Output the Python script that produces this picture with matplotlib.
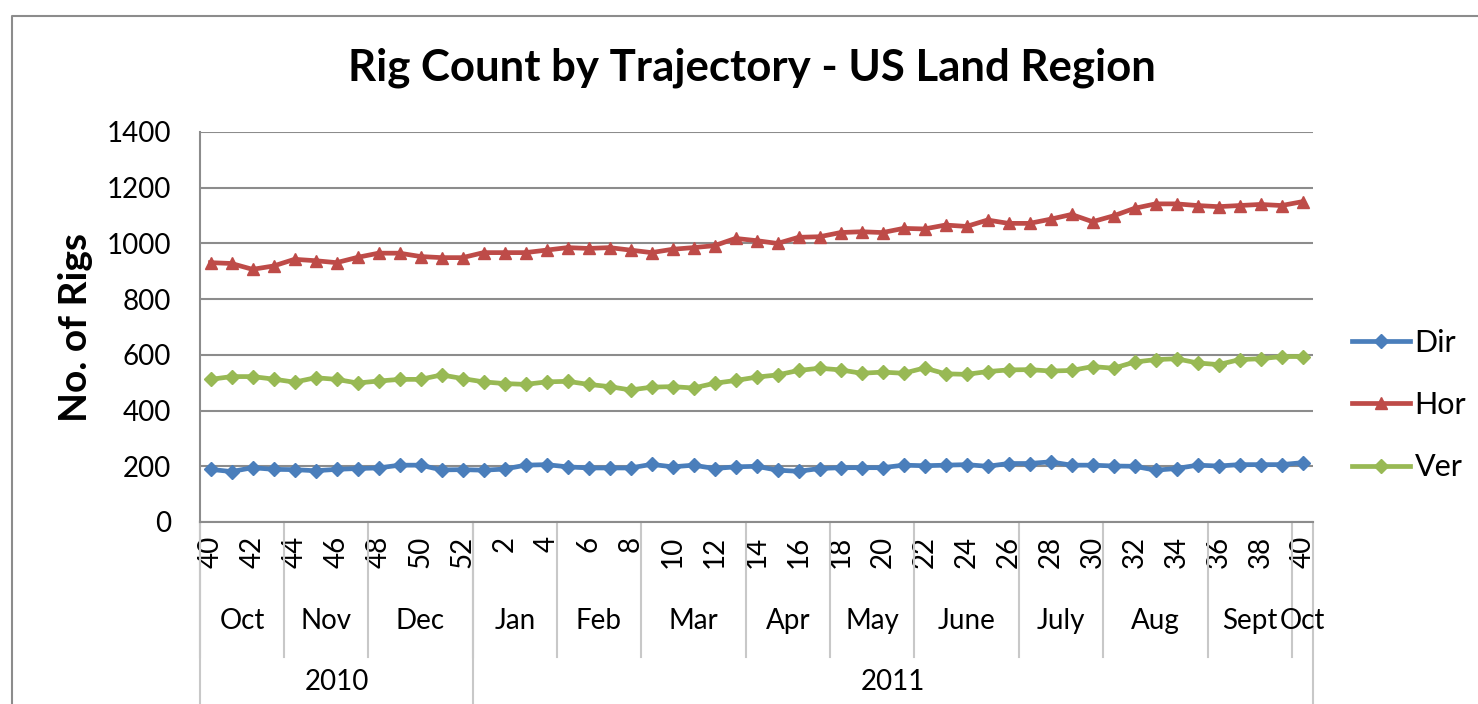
import numpy as np
import matplotlib
matplotlib.use('Agg')
from matplotlib import pyplot as plt
from matplotlib.lines import Line2D
import matplotlib.transforms as mtransforms

plt.rcParams['font.family'] = ['Lato', 'DejaVu Sans']

# weekly rig counts, week 40 of 2010 to week 40 of 2011
weeks = list(range(40, 53)) + list(range(1, 41))
dir_rigs = [189, 181, 195, 189, 188, 184, 189, 192, 194, 204, 204, 187, 188,
            186, 190, 204, 206, 198, 194, 194, 194, 207, 198, 204, 192, 198,
            200, 186, 182, 192, 195, 195, 195, 204, 202, 204, 206, 200, 210,
            210, 216, 204, 204, 201, 200, 186, 192, 204, 201, 206, 206, 206, 213]
hor_rigs = [931, 928, 907, 919, 943, 938, 931, 950, 965, 965, 953, 949, 949,
            967, 967, 967, 976, 985, 982, 985, 976, 967, 979, 985, 992, 1018,
            1010, 1000, 1022, 1024, 1039, 1042, 1039, 1054, 1052, 1066, 1061,
            1084, 1072, 1072, 1087, 1104, 1078, 1099, 1126, 1142, 1142, 1136,
            1132, 1136, 1140, 1136, 1150]
ver_rigs = [512, 522, 522, 513, 502, 518, 512, 499, 506, 512, 512, 528, 515,
            503, 497, 494, 503, 505, 494, 486, 474, 484, 486, 481, 498, 508,
            520, 528, 544, 552, 546, 534, 538, 534, 553, 532, 530, 540, 546,
            547, 542, 544, 558, 552, 574, 583, 586, 571, 565, 583, 586, 594, 594]
months = ['Oct', 'Nov', 'Dec', 'Jan', 'Feb', 'Mar', 'Apr', 'May', 'June',
          'July', 'Aug', 'Sept', 'Oct']
month_weeks = [4, 4, 5, 4, 4, 5, 4, 4, 5, 4, 5, 4, 1]
years = ['2010', '2011']
year_weeks = [13, 40]

W, H = 1478, 704
fig = plt.figure(figsize=(W / 100, H / 100), dpi=100)
ax = fig.add_axes([200 / W, (H - 522) / H, 1113 / W, 390 / H])

x = np.arange(len(weeks))
ax.plot(x, dir_rigs, color='#4A7EBB', lw=3.4, marker='D', ms=7, label='Dir')
ax.plot(x, hor_rigs, color='#BE4B48', lw=3.4, marker='^', ms=9, label='Hor')
ax.plot(x, ver_rigs, color='#98B954', lw=3.4, marker='D', ms=7, label='Ver')

ax.set_xlim(-0.5, len(weeks) - 0.5)
ax.set_ylim(0, 1400)
ax.set_yticks(range(0, 1401, 200))
ax.yaxis.grid(True, color='#8c8c8c', lw=1.5)
ax.set_axisbelow(True)
for s in ['top', 'right']:
    ax.spines[s].set_visible(False)
for s in ['left', 'bottom']:
    ax.spines[s].set_color('#8c8c8c')
    ax.spines[s].set_linewidth(1.5)
ax.tick_params(axis='y', length=0, pad=21, labelsize=20)
ax.tick_params(axis='x', length=0, pad=10, labelsize=20)
ax.set_xticks(x[::2])
ax.set_xticklabels([str(w) for w in weeks[::2]], rotation=90)

# multi-level category axis: months and years
trans = mtransforms.blended_transform_factory(ax.transData, ax.transAxes)
sep_kw = dict(color='#c8c8c8', lw=1.5, transform=trans, clip_on=False)
start = 0
for m, n in zip(months, month_weeks):
    ax.text(start + n / 2 - 0.5, -0.254, m, transform=trans, ha='center',
            va='center', fontsize=20)
    ax.plot([start - 0.5, start - 0.5], [0, -0.345], **sep_kw)
    start += n
start = 0
for yr, n in zip(years, year_weeks):
    ax.text(start + n / 2 - 0.5, -0.41, yr, transform=trans, ha='center',
            va='center', fontsize=20)
    ax.plot([start - 0.5, start - 0.5], [0, -0.5], **sep_kw)
    start += n
ax.plot([start - 0.5, start - 0.5], [0, -0.5], **sep_kw)

ax.set_ylabel('No. of Rigs', fontsize=28, fontweight='bold', va='center')
ax.yaxis.set_label_coords(-0.112, 0.5)
fig.text(752 / W, 1 - 68 / H, 'Rig Count by Trajectory - US Land Region',
         ha='center', va='center', fontsize=31.5, fontweight='bold')

ax.legend(loc='center left', bbox_to_anchor=(1352 / W, 1 - 405 / H),
          bbox_transform=fig.transFigure, frameon=False, fontsize=22,
          borderpad=0, borderaxespad=0, handlelength=1.9,
          handletextpad=0.15, labelspacing=1.12)

# chart area border
fig.add_artist(Line2D([12 / W, 12 / W, 1], [0, 1 - 16 / H, 1 - 16 / H],
                      color='#8c8c8c', lw=1.5))

fig.savefig('out.png', dpi=100)
